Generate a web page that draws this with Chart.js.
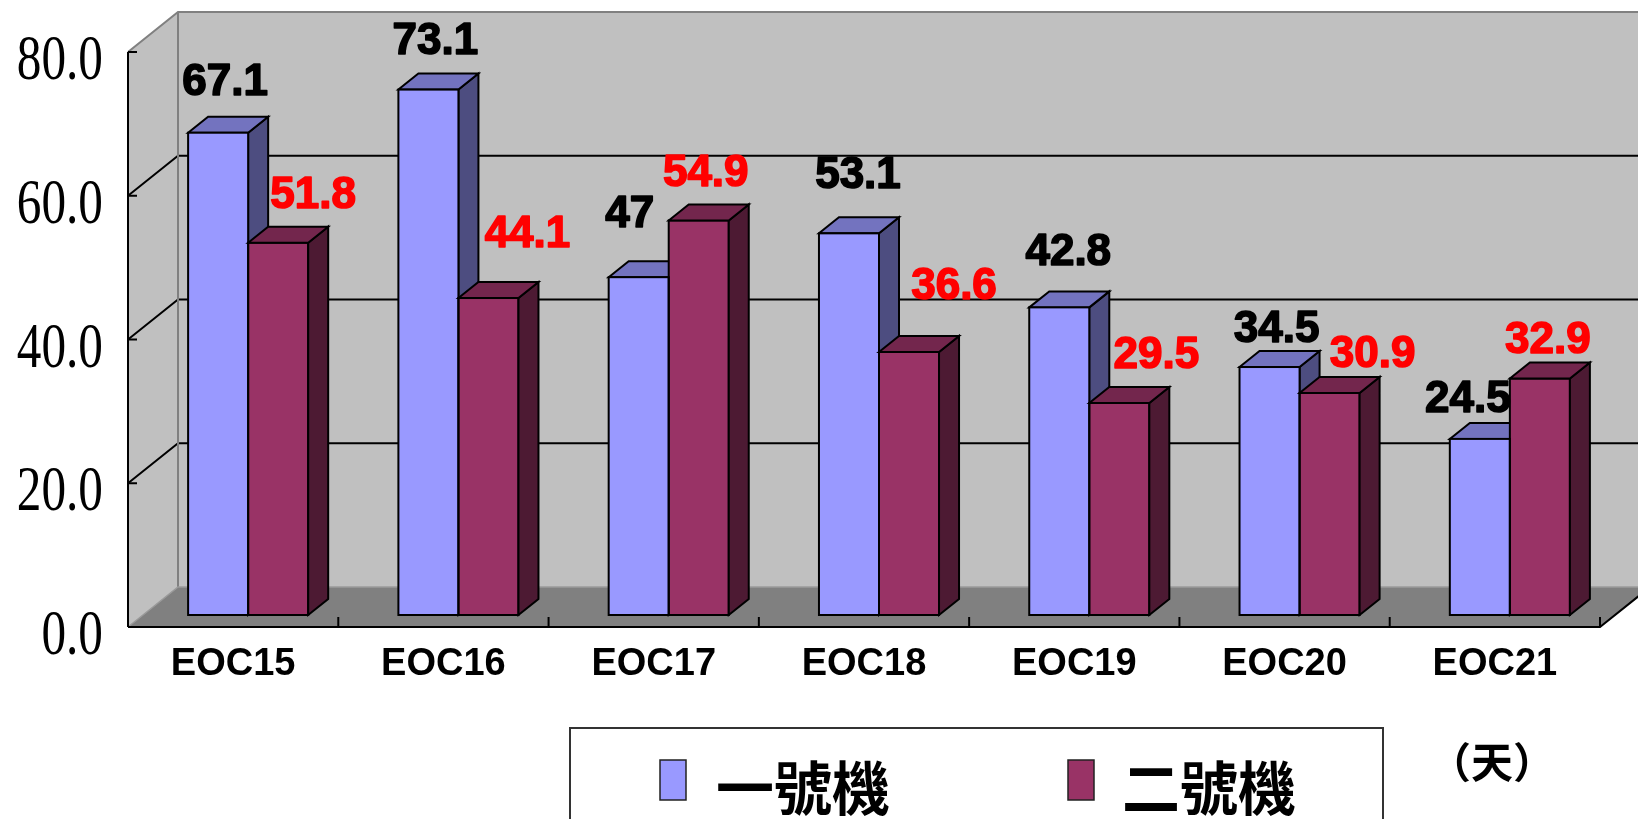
<!DOCTYPE html>
<html>
<head>
<meta charset="utf-8">
<script src="https://cdn.jsdelivr.net/npm/chart.js@4.4.1/dist/chart.umd.min.js"></script>
<style>
  html, body { margin: 0; padding: 0; background: #fff; }
  #wrap { width: 1638px; height: 819px; position: relative; }
</style>
</head>
<body>
<div id="wrap"><canvas id="eocChart"></canvas></div>
<script>
const categories = ['EOC15', 'EOC16', 'EOC17', 'EOC18', 'EOC19', 'EOC20', 'EOC21'];
const unit1Days = [67.1, 73.1, 47, 53.1, 42.8, 34.5, 24.5];
const unit2Days = [51.8, 44.1, 54.9, 36.6, 29.5, 30.9, 32.9];
const yTicks = [0, 20, 40, 60, 80];
const seriesNames = ['一號機', '二號機'];
const unitLabel = '（天）';

// 3D box: offset of the back wall, depth of a bar, and where the bars sit on the floor
const wallDepth = {dx: 50, dy: -40};
const barDepth = {dx: 20, dy: -16};
const barShift = {dx: 15, dy: -12};

// value labels were placed by hand: [dx from bar centre, dy from bar top]
const labelNudge = [
  [[7, -38], [7, -36], [-9, -50], [9, -45], [9, -42], [7, -25], [-12, -27]],
  [[35, -35], [39, -51], [7, -34], [45, -53], [37, -35], [43, -26], [8, -26]]
];

const faceColors = [
  {front: '#9999FF', top: '#7373BF', side: '#4D4D80', label: '#000000'},
  {front: '#993366', top: '#73264D', side: '#4D1A33', label: '#FF0000'}
];

// legend frame and item positions
const legendBox = {left: 570, top: 728, right: 1383};
const legendItems = [{swatch: 660, text: 716}, {swatch: 1068, text: 1122}];

function barBox(el) {
  const {x, y, base, width} = el.getProps(['x', 'y', 'base', 'width'], true);
  return {left: x - width / 2, right: x + width / 2, top: Math.min(y, base), bottom: Math.max(y, base), cx: x};
}

function poly(ctx, pts, fill) {
  ctx.beginPath();
  ctx.moveTo(pts[0][0], pts[0][1]);
  for (let i = 1; i < pts.length; i++) ctx.lineTo(pts[i][0], pts[i][1]);
  ctx.closePath();
  ctx.fillStyle = fill;
  ctx.fill();
  ctx.stroke();
}

function drawTopAndSide(ctx, b, colors) {
  const dx = barDepth.dx, dy = barDepth.dy;
  ctx.lineWidth = 2;
  ctx.strokeStyle = '#000';
  ctx.lineJoin = 'miter';
  poly(ctx, [[b.right, b.top], [b.right + dx, b.top + dy], [b.right + dx, b.bottom + dy], [b.right, b.bottom]], colors.side);
  poly(ctx, [[b.left, b.top], [b.left + dx, b.top + dy], [b.right + dx, b.top + dy], [b.right, b.top]], colors.top);
}

function line(ctx, pts, color, width) {
  ctx.beginPath();
  ctx.moveTo(pts[0][0], pts[0][1]);
  for (let i = 1; i < pts.length; i++) ctx.lineTo(pts[i][0], pts[i][1]);
  ctx.strokeStyle = color;
  ctx.lineWidth = width;
  ctx.stroke();
}

const box3d = {
  id: 'box3d',
  beforeDraw(chart) {
    const {ctx, chartArea: a, scales: {x, y}} = chart;
    const W = chart.width;
    const dx = wallDepth.dx, dy = wallDepth.dy;
    const yTop = y.getPixelForValue(yTicks[yTicks.length - 1]);
    const y0 = y.getPixelForValue(0);

    ctx.save();
    ctx.fillStyle = '#fff';
    ctx.fillRect(0, 0, W, chart.height);

    // walls and floor
    ctx.fillStyle = '#C0C0C0';
    ctx.fillRect(a.left + dx, yTop + dy, W - a.left - dx, y0 - yTop);
    ctx.beginPath();
    ctx.moveTo(a.left, yTop); ctx.lineTo(a.left + dx, yTop + dy);
    ctx.lineTo(a.left + dx, y0 + dy); ctx.lineTo(a.left, y0);
    ctx.closePath();
    ctx.fill();
    ctx.fillStyle = '#808080';
    ctx.beginPath();
    ctx.moveTo(a.left, y0); ctx.lineTo(a.left + dx, y0 + dy);
    ctx.lineTo(a.right + dx, y0 + dy); ctx.lineTo(a.right, y0);
    ctx.closePath();
    ctx.fill();

    // gridlines across side and back wall
    yTicks.slice(1, -1).forEach(v => {
      const py = y.getPixelForValue(v);
      line(ctx, [[a.left, py], [a.left + dx, py + dy], [W, py + dy]], '#000', 2);
    });

    // wall edges
    line(ctx, [[a.left, yTop], [a.left + dx, yTop + dy], [W, yTop + dy]], '#808080', 2);
    line(ctx, [[a.left + dx, yTop + dy], [a.left + dx, y0 + dy]], '#808080', 2);
    line(ctx, [[a.left, y0], [a.left + dx, y0 + dy], [W, y0 + dy]], '#9A9A9A', 1.5);

    // axes
    line(ctx, [[a.left, yTop], [a.left, y0]], '#000', 2);
    line(ctx, [[a.left, y0], [a.right, y0], [a.right + dx, y0 + dy]], '#000', 2);
    yTicks.forEach(v => {
      const py = y.getPixelForValue(v);
      line(ctx, [[a.left, py], [a.left + 9, py]], '#000', 2);
    });
    for (let i = 1; i <= categories.length; i++) {
      const px = x.getPixelForValue(i - 0.5);
      line(ctx, [[px, y0], [px, y0 - 10]], '#000', 2);
    }
    ctx.restore();
  },
  beforeDatasetsDraw(chart) {
    const ctx = chart.ctx;
    ctx.save();
    ctx.translate(barShift.dx, barShift.dy);
    // faces of the first series go underneath the fronts of the second
    chart.getDatasetMeta(0).data.forEach(el => drawTopAndSide(ctx, barBox(el), faceColors[0]));
  },
  afterDatasetsDraw(chart) {
    const ctx = chart.ctx;
    [0, 1].forEach(d => {
      chart.getDatasetMeta(d).data.forEach(el => {
        const b = barBox(el);
        ctx.lineWidth = 2;
        ctx.strokeStyle = '#000';
        ctx.strokeRect(b.left, b.top, b.right - b.left, b.bottom - b.top);
      });
    });
    chart.getDatasetMeta(1).data.forEach(el => drawTopAndSide(ctx, barBox(el), faceColors[1]));

    // value labels, heavy bold
    ctx.font = 'bold 44px "Liberation Sans", Arial, sans-serif';
    ctx.textAlign = 'center';
    ctx.textBaseline = 'alphabetic';
    ctx.lineJoin = 'round';
    ctx.lineWidth = 1.6;
    [0, 1].forEach(d => {
      const values = chart.data.datasets[d].data;
      chart.getDatasetMeta(d).data.forEach((el, i) => {
        const b = barBox(el);
        const [nx, ny] = labelNudge[d][i];
        ctx.fillStyle = faceColors[d].label;
        ctx.strokeStyle = faceColors[d].label;
        ctx.fillText(String(values[i]), b.cx + nx, b.top + ny);
        ctx.strokeText(String(values[i]), b.cx + nx, b.top + ny);
      });
    });
    ctx.restore();
  },
  afterDraw(chart) {
    const {ctx, chartArea: a, scales: {x, y}} = chart;
    ctx.save();

    // value axis labels, narrow serif
    ctx.font = '64px "Liberation Serif", "Times New Roman", serif';
    ctx.fillStyle = '#000';
    ctx.textAlign = 'right';
    ctx.textBaseline = 'alphabetic';
    yTicks.forEach(v => {
      const py = y.getPixelForValue(v);
      ctx.save();
      ctx.translate(a.left - 25, py + 27);
      ctx.scale(0.77, 1);
      ctx.fillText(v.toFixed(1), 0, 0);
      ctx.restore();
    });

    // category labels
    ctx.font = 'bold 38px "Liberation Sans", Arial, sans-serif';
    ctx.textAlign = 'center';
    categories.forEach((c, i) => {
      ctx.fillText(c, x.getPixelForValue(i), a.bottom + 48);
    });

    // legend
    ctx.lineWidth = 2;
    ctx.strokeStyle = '#333';
    ctx.strokeRect(legendBox.left, legendBox.top, legendBox.right - legendBox.left, 140);
    ctx.font = 'bold 58px "Noto Sans CJK TC", sans-serif';
    ctx.textAlign = 'left';
    ctx.textBaseline = 'middle';
    chart.data.datasets.forEach((ds, d) => {
      const item = legendItems[d];
      ctx.fillStyle = ds.backgroundColor;
      ctx.fillRect(item.swatch, 760, 26, 40);
      ctx.lineWidth = 1.5;
      ctx.strokeStyle = '#222';
      ctx.strokeRect(item.swatch, 760, 26, 40);
      ctx.fillStyle = '#000';
      ctx.fillText(ds.label, item.text, 788);
    });

    // unit note
    ctx.font = 'bold 42px "Noto Sans CJK TC", sans-serif';
    ctx.textAlign = 'center';
    ctx.fillText(unitLabel, 1492, 762);

    ctx.restore();
  }
};

new Chart(document.getElementById('eocChart'), {
  type: 'bar',
  data: {
    labels: categories,
    datasets: [
      {label: seriesNames[0], data: unit1Days, backgroundColor: faceColors[0].front, borderWidth: 0, clip: false},
      {label: seriesNames[1], data: unit2Days, backgroundColor: faceColors[1].front, borderWidth: 0, clip: false}
    ]
  },
  options: {
    responsive: true,
    maintainAspectRatio: false,
    animation: false,
    layout: {padding: {left: 128, right: 38, top: 52, bottom: 192}},
    datasets: {bar: {categoryPercentage: 0.571, barPercentage: 1}},
    plugins: {legend: {display: false}, tooltip: {enabled: false}},
    scales: {
      x: {display: false, offset: true},
      y: {display: false, min: 0, max: 80}
    }
  },
  plugins: [box3d]
});
</script>
</body>
</html>
